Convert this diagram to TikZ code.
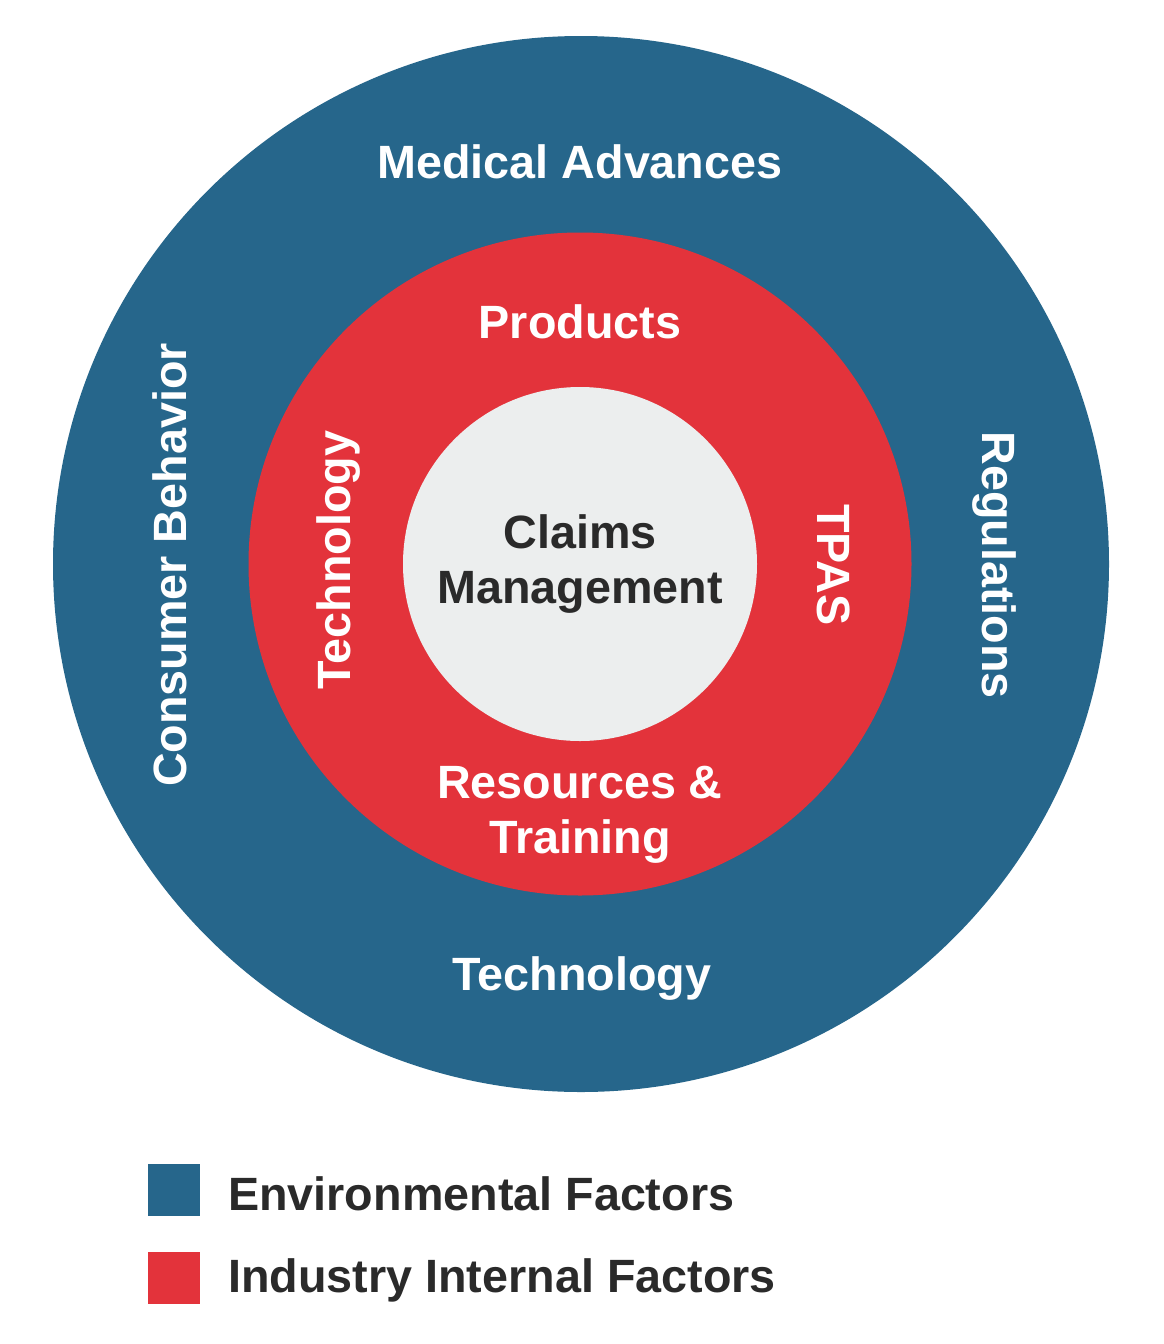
\documentclass[tikz,border=0pt]{standalone}
\usepackage{fontspec}
\setmainfont{Liberation Sans}
\usepackage{xcolor}
\usepackage{tikz}
\usetikzlibrary{positioning}
\definecolor{envblue}{HTML}{26668B}
\definecolor{indred}{HTML}{E3333B}
\definecolor{coregrey}{HTML}{ECEEEE}
\definecolor{inktext}{HTML}{2A2A2A}

\begin{document}
\begin{tikzpicture}[x=1pt,y=-1pt,
  lbl/.style={font=\fontsize{46.7}{55}\selectfont\bfseries,text=white,inner sep=0pt,anchor=base},
  ring/.style={circle,inner sep=0pt,draw=none},
  keybox/.style={minimum size=52pt,inner sep=0pt}]
  \useasboundingbox[fill=white] (0,0) rectangle (1164,1344);
  % rings: environment, industry, core
  \node[ring,fill=envblue,minimum size=1056pt] (env) at (581,564) {};
  \node[ring,fill=indred,minimum size=663pt] (ind) at (580,564) {};
  \node[ring,fill=coregrey,minimum size=354pt] (core) at (580,564) {};
  \node[lbl] (medadv) at (580,178) {Medical Advances};
  \node[lbl] (prod) at (580,338) {Products};
  \node[lbl,anchor=center,align=center,text=inktext] (claims) at (580,564) {Claims\\Management};
  \node[lbl,anchor=center,align=center] (res) at (580,815) {Resources \&\\Training};
  \node[lbl] (techenv) at (582,990) {Technology};
  \node[lbl,rotate=90] (techind) at (350,560) {Technology};
  \node[lbl,rotate=-90] (tpas) at (817,565) {TPAS};
  \node[lbl,rotate=90] (consumer) at (186,565) {Consumer Behavior};
  \node[lbl,rotate=-90] (regs) at (982,565) {Regulations};
  % legend
  \node[keybox,fill=envblue] (keyenv) at (174,1190) {};
  \node[keybox,fill=indred] (keyind) at (174,1277.5) {};
  \node[lbl,anchor=base west,text=inktext] (txtenv) at (228,1210) {Environmental Factors};
  \node[lbl,anchor=base west,text=inktext] (txtind) at (228,1292) {Industry Internal Factors};
\end{tikzpicture}
\end{document}
